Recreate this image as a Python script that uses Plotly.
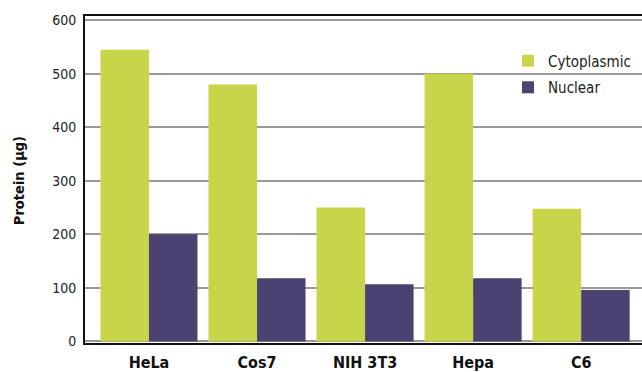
import plotly.graph_objects as go

# Protein yield per cell line, by fraction
cell_lines = ["HeLa", "Cos7", "NIH 3T3", "Hepa", "C6"]
cytoplasmic = [545, 480, 250, 500, 248]
nuclear = [200, 118, 107, 118, 96]
y_ticks = [0, 100, 200, 300, 400, 500, 600]

GREEN = "#c8d44a"
PURPLE = "#4b4272"
NARROW = "Liberation Sans Narrow, DejaVu Sans Condensed, Arial Narrow, sans-serif"

fig = go.Figure()
fig.add_trace(go.Bar(name="Cytoplasmic", x=cell_lines, y=cytoplasmic,
                     legendgroup="cyto",
                     marker=dict(color=GREEN, line=dict(width=0))))
fig.add_trace(go.Bar(name="Nuclear", x=cell_lines, y=nuclear,
                     legendgroup="nuc",
                     marker=dict(color=PURPLE, line=dict(width=0))))

fig.update_layout(
    width=642, height=372,
    margin=dict(l=85, r=0, t=16, b=29, autoexpand=False),
    paper_bgcolor="white", plot_bgcolor="white",
    barmode="group", bargap=0.102, bargroupgap=0,
    showlegend=True,
    legend=dict(
        x=(508 - 85) / 557, y=0.913, xanchor="left", yanchor="top",
        bgcolor="rgba(0,0,0,0)",
        font=dict(family=NARROW, size=15, color="#222"),
        itemwidth=30, tracegroupgap=4, traceorder="grouped",
    ),
    xaxis=dict(
        type="category", range=[-0.592, 4.563],
        showline=True, linecolor="#111", linewidth=2, mirror=True,
        showgrid=False, ticks="", ticklabelstandoff=4,
        tickfont=dict(family=NARROW, size=16, color="#111", weight="bold"),
    ),
    yaxis=dict(
        range=[-3, 608], tickvals=y_ticks,
        showline=True, linecolor="#111", linewidth=2,
        showgrid=True, gridcolor="#999", gridwidth=1.5,
        zeroline=False, ticks="", ticklabelstandoff=4,
        tickfont=dict(family=NARROW, size=14, color="#222"),
    ),
    annotations=[dict(
        text="<b>Protein (µg)</b>", textangle=-90,
        xref="paper", yref="paper", x=-0.1185, y=0.498,
        xanchor="center", yanchor="middle", showarrow=False,
        font=dict(family=NARROW, size=14.5, color="#111"),
    )],
)

fig.write_html("out.html")
